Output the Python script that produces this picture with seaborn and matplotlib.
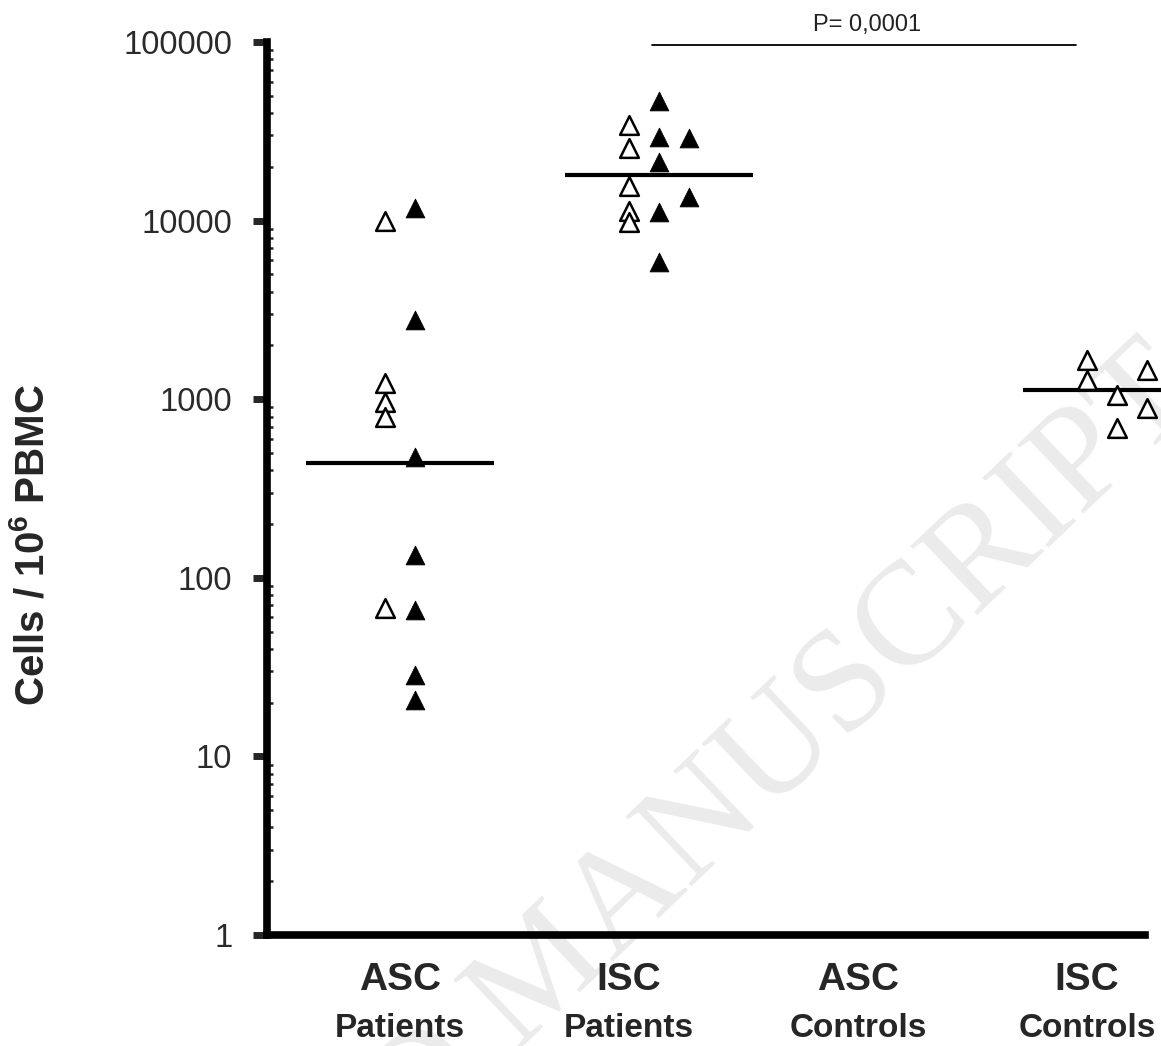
import matplotlib
matplotlib.use("Agg")
import matplotlib.pyplot as plt
from matplotlib.ticker import LogLocator, NullFormatter
import numpy as np
import pandas as pd
import seaborn as sns

# groups on the x axis (two-line labels)
groups = ["ASC Patients", "ISC Patients", "ASC Controls", "ISC Controls"]
label_top = ["ASC", "ISC", "ASC", "ISC"]
label_bottom = ["Patients", "Patients", "Controls", "Controls"]

# cells / 10^6 PBMC, open and filled triangles
asc_pat_open = [9950, 1230, 970, 790, 68]
asc_pat_filled = [11800, 2780, 475, 134, 66, 28.5, 20.7]
isc_pat_open = [34300, 25500, 15600, 11300, 9800]
isc_pat_filled_a = [46900, 29500, 21400, 11200, 5890]
isc_pat_filled_b = [28900, 13600]
asc_ctrl_open = []
isc_ctrl_open_a = [1657, 1281]
isc_ctrl_open_b = [1055, 691]
isc_ctrl_open_c = [1456, 894]

p_text = "P= 0,0001"

# column layout of the scatter (column slot inside each group)
rows = []
def add(group, fill, col, vals):
    for v in vals:
        rows.append({"group": group, "fill": fill, "col": col, "value": v})

add("ASC Patients", "open", -0.5, asc_pat_open)
add("ASC Patients", "filled", 0.5, asc_pat_filled)
add("ISC Patients", "open", 0, isc_pat_open)
add("ISC Patients", "filled", 1, isc_pat_filled_a)
add("ISC Patients", "filled", 2, isc_pat_filled_b)
add("ASC Controls", "open", 0, asc_ctrl_open)
add("ISC Controls", "open", 0, isc_ctrl_open_a)
add("ISC Controls", "open", 1, isc_ctrl_open_b)
add("ISC Controls", "open", 2, isc_ctrl_open_c)
df = pd.DataFrame(rows)

step = 0.131  # spacing between scatter columns
df["x"] = df["group"].map({g: i for i, g in enumerate(groups)}) + df["col"] * step

sns.set_style("white")
plt.rcParams["font.family"] = ["Liberation Sans", "DejaVu Sans"]
plt.rcParams["mathtext.fontset"] = "custom"
plt.rcParams["mathtext.rm"] = "Liberation Sans"
plt.rcParams["mathtext.bf"] = "Liberation Sans:bold"

W, H = 1161, 1046
fig = plt.figure(figsize=(W / 100, H / 100), dpi=100)
ax = fig.add_axes([267 / W, 1 - 935 / H, (1145 - 267) / W, (935 - 42) / H])
ax.patch.set_alpha(0)

# faint watermark
ax.text(548 / W, 1 - 975 / H, "ACCEPTED MANUSCRIPT", transform=fig.transFigure,
        rotation=43.5, ha="center", va="center", fontsize=106,
        family="Liberation Serif", color="#ebebeb", zorder=0.5, clip_on=False)

# scatter points
sns.scatterplot(data=df[df["fill"] == "open"], x="x", y="value", marker="^",
                s=13.5 ** 2, color="white", edgecolor="black", linewidth=1.8,
                ax=ax, zorder=3)
sns.scatterplot(data=df[df["fill"] == "filled"], x="x", y="value", marker="^",
                s=13.5 ** 2, color="black", edgecolor="black", linewidth=0.6,
                ax=ax, zorder=3)
for c in ax.collections:
    c.set_clip_on(False)

# geometric mean lines
for g, sub in df.groupby("group"):
    if len(sub) == 0:
        continue
    gm = np.exp(np.mean(np.log(sub["value"])))
    c = (sub["x"].min() + sub["x"].max()) / 2
    ax.hlines(gm, c - 0.41, c + 0.41, color="black", lw=3, zorder=2, clip_on=False)

ax.set_yscale("log")
ax.set_ylim(1, 1e5)
ax.set_xlim(-0.581, 3.253)
ax.set_xlabel("")
ax.set_ylabel("")
ax.set_yticks([1, 10, 100, 1000, 10000, 100000])
ax.set_yticklabels(["1", "10", "100", "1000", "10000", "100000"])
ax.yaxis.set_minor_locator(LogLocator(base=10, subs=range(2, 10), numticks=20))
ax.yaxis.set_minor_formatter(NullFormatter())
ax.tick_params(axis="y", which="major", direction="out", length=10, width=5,
               labelsize=23.5, labelcolor="#2a2a2a", pad=15, left=True)
ax.tick_params(axis="y", which="minor", direction="in", length=4, width=1.8, left=True)
ax.tick_params(axis="x", length=0, labelbottom=False)
ax.set_xticks([])
for s in ["top", "right"]:
    ax.spines[s].set_visible(False)
for s in ["left", "bottom"]:
    ax.spines[s].set_linewidth(5.5)
    ax.spines[s].set_color("black")

# two-line group labels
for i in range(len(groups)):
    ax.text(i, -0.0616, label_top[i], transform=ax.get_xaxis_transform(),
            ha="center", va="baseline", fontsize=28, fontweight="bold")
    ax.text(i, -0.1142, label_bottom[i], transform=ax.get_xaxis_transform(),
            ha="center", va="baseline", fontsize=24, fontweight="bold")

# significance bar
ax.plot([1.1, 2.95], [96200, 96200], color="black", lw=1.3, clip_on=False)
ax.text(2.04, 1.25e5, p_text, ha="center", va="center", fontsize=17,
        color="#222222", clip_on=False)

fig.text(32 / W, 1 - 545 / H, r"Cells / 10$^{\mathbf{6}}$ PBMC", rotation=90,
         ha="center", va="center", fontsize=29, fontweight="bold")

fig.savefig("out.png", dpi=100)
